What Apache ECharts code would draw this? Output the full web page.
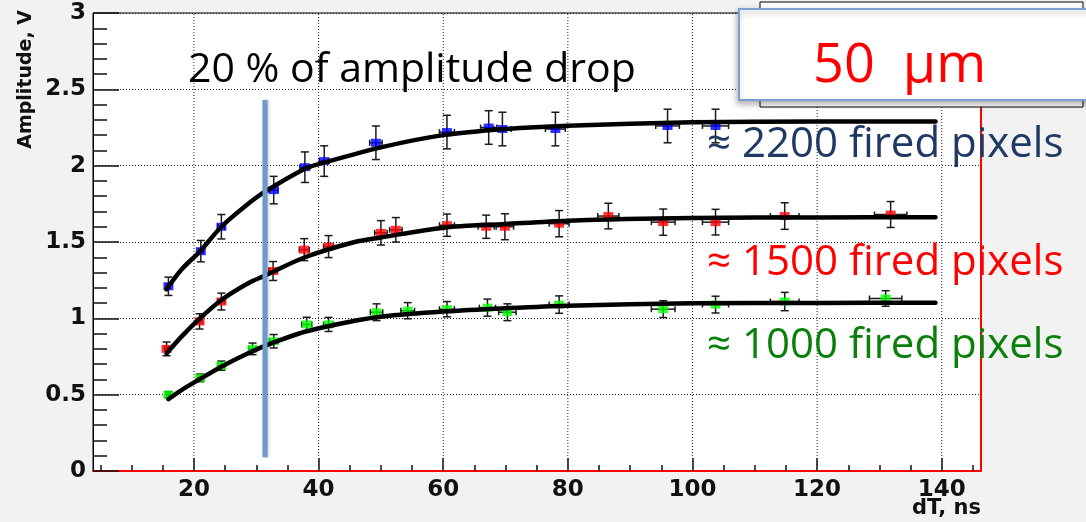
<!DOCTYPE html>
<html>
<head>
<meta charset="utf-8">
<script src="https://cdn.jsdelivr.net/npm/echarts@6/dist/echarts.min.js"></script>
<style>
  html, body { margin: 0; padding: 0; background: #f2f2f2; }
  #chart { width: 1086px; height: 522px; }
</style>
</head>
<body>
<div id="chart"></div>
<script>
// Axis ranges and tick positions
const xRange = [3.8, 146.3];
const yRange = [0, 3];
const xMajorTicks = [20, 40, 60, 80, 100, 120, 140];
const xMinorTicks = [5, 10, 15, 25, 30, 35, 45, 50, 55, 65, 70, 75, 85, 90, 95, 105, 110, 115, 125, 130, 135, 145];

// ≈ 2200 fired pixels
const blueX    = [15.9, 21.1, 24.4, 32.8, 37.8, 40.9, 49.2, 60.6, 67.3, 69.5, 78.0, 96.0, 103.7];
const blueY    = [1.21, 1.44, 1.60, 1.84, 1.99, 2.03, 2.15, 2.22, 2.25, 2.24, 2.24, 2.26, 2.26];
const blueErrY = [0.06, 0.07, 0.08, 0.09, 0.10, 0.10, 0.11, 0.11, 0.11, 0.11, 0.11, 0.11, 0.11];
const blueErrX = [0.3, 0.4, 0.5, 0.7, 0.8, 0.8, 1.0, 1.2, 1.3, 1.4, 1.6, 1.9, 2.1];
const blueFitX = [15.6, 18, 21, 24.4, 28.7, 31.4, 37.8, 40, 50, 60, 70, 80, 100, 120, 139];
const blueFitY = [1.19, 1.32, 1.44, 1.60, 1.75, 1.83, 1.98, 2.01, 2.12, 2.20, 2.24, 2.262, 2.284, 2.289, 2.29];

// ≈ 1500 fired pixels
const redX    = [15.6, 20.9, 24.4, 32.7, 37.7, 41.6, 50.0, 52.4, 60.6, 66.9, 69.9, 78.6, 86.5, 95.3, 103.7, 114.8, 131.8];
const redY    = [0.80, 0.98, 1.11, 1.31, 1.45, 1.47, 1.56, 1.58, 1.61, 1.60, 1.60, 1.62, 1.67, 1.63, 1.63, 1.67, 1.68];
const redErrY = [0.045, 0.05, 0.055, 0.062, 0.072, 0.072, 0.08, 0.08, 0.073, 0.076, 0.085, 0.086, 0.084, 0.086, 0.084, 0.087, 0.085];
const redErrX = [0.3, 0.4, 0.5, 0.7, 0.8, 0.8, 1.0, 1.0, 1.2, 1.3, 1.4, 1.6, 1.7, 1.9, 2.1, 2.3, 2.6];
const redFitX = [15.6, 18, 20.7, 24.4, 28.7, 31.4, 37.8, 45.8, 50, 60, 70, 80, 100, 120, 139];
const redFitY = [0.77, 0.88, 0.99, 1.12, 1.23, 1.28, 1.40, 1.50, 1.53, 1.594, 1.618, 1.64, 1.657, 1.661, 1.662];

// ≈ 1000 fired pixels
const greenX    = [15.9, 21.0, 24.4, 29.4, 32.8, 38.1, 41.6, 49.3, 54.3, 60.6, 67.1, 70.3, 78.6, 95.3, 103.7, 114.8, 131.0];
const greenY    = [0.50, 0.61, 0.69, 0.80, 0.85, 0.96, 0.96, 1.04, 1.05, 1.06, 1.07, 1.04, 1.09, 1.06, 1.09, 1.11, 1.13];
const greenErrY = [0.02, 0.025, 0.03, 0.038, 0.044, 0.047, 0.046, 0.055, 0.053, 0.05, 0.056, 0.055, 0.057, 0.055, 0.055, 0.06, 0.051];
const greenErrX = [0.3, 0.4, 0.5, 0.6, 0.7, 0.8, 0.8, 1.0, 1.1, 1.2, 1.3, 1.4, 1.6, 1.9, 2.1, 2.3, 2.6];
const greenFitX = [15.9, 18, 20.7, 24.4, 28.7, 31.4, 37.8, 45.8, 50, 60, 70, 80, 100, 120, 139];
const greenFitY = [0.47, 0.53, 0.596, 0.683, 0.771, 0.82, 0.912, 0.984, 1.011, 1.044, 1.066, 1.083, 1.098, 1.101, 1.102];

// 20 % amplitude drop marker line
const dropX = 31.4;
const dropY = [0.09, 2.43];

const zip = (xs, ys) => xs.map((x, i) => [x, ys[i]]);

const axisFont = { fontFamily: 'DejaVu Sans', fontWeight: 'bold', fontSize: 23, color: '#111' };
const tickStyle = { color: '#111', width: 1.5 };

function errorBars(xs, ys, ex, ey) {
  return {
    type: 'custom',
    z: 3,
    silent: true,
    encode: { x: 0, y: 1 },
    data: xs.map((x, i) => [x, ys[i], ex[i], ey[i]]),
    renderItem(params, api) {
      const x = api.value(0), y = api.value(1), dx = api.value(2), dy = api.value(3);
      const top = api.coord([x, y + dy]);
      const bot = api.coord([x, y - dy]);
      const lft = api.coord([x - dx, y]);
      const rgt = api.coord([x + dx, y]);
      const cap = 4, hcap = 3;
      const style = { stroke: '#1a1a1a', lineWidth: 1.5 };
      const seg = (x1, y1, x2, y2) => ({ type: 'line', shape: { x1, y1, x2, y2 }, style });
      return {
        type: 'group',
        children: [
          seg(top[0], top[1], bot[0], bot[1]),
          seg(top[0] - cap, top[1], top[0] + cap, top[1]),
          seg(bot[0] - cap, bot[1], bot[0] + cap, bot[1]),
          seg(lft[0], lft[1], rgt[0], rgt[1]),
          seg(lft[0], lft[1] - hcap, lft[0], lft[1] + hcap),
          seg(rgt[0], rgt[1] - hcap, rgt[0], rgt[1] + hcap)
        ]
      };
    }
  };
}

function points(xs, ys, color) {
  return {
    type: 'scatter',
    z: 4,
    silent: true,
    symbol: 'rect',
    symbolSize: [10, 8],
    itemStyle: { color },
    data: zip(xs, ys)
  };
}

function fitCurve(xs, ys) {
  return {
    type: 'line',
    z: 5,
    silent: true,
    smooth: 0.3,
    showSymbol: false,
    symbol: 'none',
    lineStyle: { color: '#000', width: 4.5, cap: 'round', join: 'round' },
    data: zip(xs, ys)
  };
}

const chart = echarts.init(document.getElementById('chart'), null, { renderer: 'canvas' });

chart.setOption({
  backgroundColor: '#f2f2f2',
  animation: false,
  grid: {
    left: 93, top: 13, right: 105, bottom: 51,
    show: true, backgroundColor: '#ffffff', borderColor: '#000', borderWidth: 1
  },
  xAxis: [
    {
      type: 'value', position: 'bottom', min: xRange[0], max: xRange[1],
      axisLine: { show: true, onZero: false, lineStyle: { color: '#ff0000', width: 2 } },
      axisTick: { show: true, inside: true, length: 13, customValues: xMajorTicks, lineStyle: tickStyle },
      axisLabel: Object.assign({ customValues: xMajorTicks, margin: 8 }, axisFont),
      splitLine: { show: false }
    },
    {
      type: 'value', position: 'bottom', min: xRange[0], max: xRange[1],
      axisLine: { show: false },
      axisTick: { show: true, inside: true, length: 6, customValues: xMinorTicks, lineStyle: tickStyle },
      axisLabel: { show: false },
      splitLine: { show: false }
    }
  ],
  yAxis: [
    {
      type: 'value', position: 'left', min: yRange[0], max: yRange[1], interval: 0.5,
      axisLine: { show: true, onZero: false, lineStyle: { color: '#000', width: 1 } },
      axisTick: { show: true, inside: true, length: 26, lineStyle: tickStyle },
      minorTick: { show: true, splitNumber: 5, length: 14, lineStyle: tickStyle },
      axisLabel: Object.assign({ margin: 7, padding: [9, 0, 0, 0] }, axisFont),
      splitLine: { show: true, lineStyle: { color: '#222', width: 1, type: [1, 2] } }
    },
    {
      type: 'value', position: 'right', min: yRange[0], max: yRange[1], interval: 0.5,
      axisLine: { show: true, onZero: false, lineStyle: { color: '#ff0000', width: 2 } },
      axisTick: { show: false }, axisLabel: { show: false }, splitLine: { show: false }
    }
  ],
  series: [
    {
      // vertical dotted grid at the labelled dT values
      type: 'custom', z: 1, silent: true, encode: { x: 0, y: 1 },
      data: xMajorTicks.map(v => [v, yRange[0]]),
      renderItem(params, api) {
        const a = api.coord([api.value(0), yRange[0]]);
        const b = api.coord([api.value(0), yRange[1]]);
        return { type: 'line', shape: { x1: a[0], y1: a[1], x2: b[0], y2: b[1] },
                 style: { stroke: '#222', lineWidth: 1, lineDash: [1, 2] } };
      }
    },
    errorBars(blueX, blueY, blueErrX, blueErrY),
    errorBars(redX, redY, redErrX, redErrY),
    errorBars(greenX, greenY, greenErrX, greenErrY),
    points(blueX, blueY, '#0000ff'),
    points(redX, redY, '#ff0000'),
    points(greenX, greenY, '#00ff00'),
    fitCurve(blueFitX, blueFitY),
    fitCurve(redFitX, redFitY),
    fitCurve(greenFitX, greenFitY),
    {
      type: 'line', z: 6, silent: true, showSymbol: false, symbol: 'none',
      lineStyle: { color: '#6a9bcb', width: 5, shadowBlur: 3, shadowColor: 'rgba(0,0,0,0.25)', shadowOffsetX: 1 },
      data: dropY.map(y => [dropX, y])
    }
  ],
  graphic: [
    {
      type: 'text', x: 26, y: 10, rotation: Math.PI / 2, z: 100,
      style: { text: 'Amplitude, V', fill: '#111', font: 'bold 19px "DejaVu Sans"',
               align: 'right', verticalAlign: 'middle' }
    },
    {
      type: 'text', x: 981, y: 509, z: 100,
      style: { text: 'dT, ns', fill: '#111', font: 'bold 21px "DejaVu Sans"',
               align: 'right', verticalAlign: 'middle' }
    },
    {
      type: 'text', x: 188, y: 70, z: 100,
      style: { text: '20 % of amplitude drop', fill: '#000', font: '41px "Open Sans"',
               align: 'left', verticalAlign: 'middle' }
    },
    {
      type: 'rect', z: 100,
      shape: { x: 760, y: 2, width: 323, height: 105 },
      style: { fill: '#ffffff', stroke: '#000', lineWidth: 1 }
    },
    {
      type: 'rect', z: 101,
      shape: { x: 739, y: 9, width: 360, height: 91 },
      style: { fill: '#ffffff', stroke: '#7ba0cf', lineWidth: 2,
               shadowBlur: 6, shadowColor: 'rgba(0,0,0,0.3)', shadowOffsetX: -1, shadowOffsetY: 3 }
    },
    {
      type: 'text', x: 813, y: 67, z: 102,
      style: { text: '50  μm', fill: '#ff0000', font: '54px "Open Sans"',
               align: 'left', verticalAlign: 'middle' }
    },
    {
      type: 'text', x: 707, y: 145, z: 100,
      style: { text: '≈ 2200 fired pixels', fill: '#1f3864', font: '42px "Open Sans"',
               align: 'left', verticalAlign: 'middle' }
    },
    {
      type: 'text', x: 707, y: 263, z: 100,
      style: { text: '≈ 1500 fired pixels', fill: '#ff0000', font: '42px "Open Sans"',
               align: 'left', verticalAlign: 'middle' }
    },
    {
      type: 'text', x: 707, y: 346, z: 100,
      style: { text: '≈ 1000 fired pixels', fill: '#0a7f0a', font: '42px "Open Sans"',
               align: 'left', verticalAlign: 'middle' }
    }
  ]
});
</script>
</body>
</html>
